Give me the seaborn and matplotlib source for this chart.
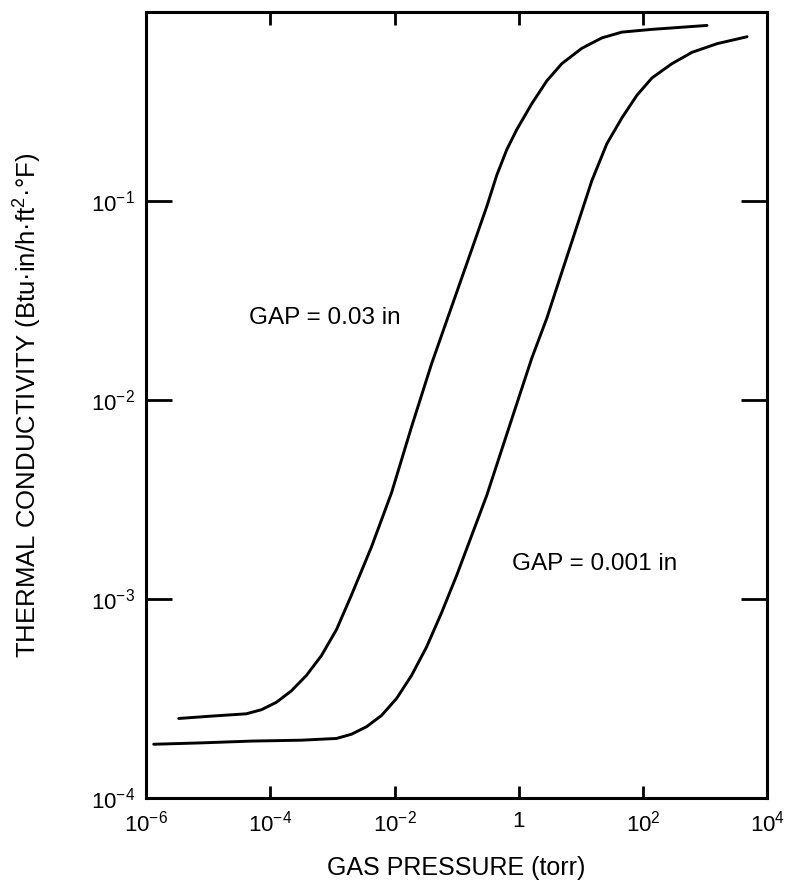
import numpy as np
import pandas as pd
import matplotlib
matplotlib.use("Agg")
import matplotlib.pyplot as plt
import seaborn as sns

# values (pressure in torr, conductivity in Btu·in/h·ft²·°F)
gap_003_pressure = [3.34e-6, 1.12e-5, 4.1e-5, 7.2e-5, 1.25e-4, 2.18e-4, 3.81e-4, 6.65e-4,
                    1.16e-3, 2.02e-3, 4.26e-3, 8.95e-3, 0.0188, 0.0395, 0.083, 0.175, 0.305,
                    0.442, 0.64, 0.93, 1.62, 2.83, 4.94, 10.4, 21.8, 45.8, 140, 1076]
gap_003_k = [2.52e-4, 2.59e-4, 2.66e-4, 2.79e-4, 3.04e-4, 3.47e-4, 4.15e-4, 5.22e-4,
             7.05e-4, 1.05e-3, 1.84e-3, 3.44e-3, 7.38e-3, 0.0153, 0.0296, 0.0574, 0.0942,
             0.1355, 0.182, 0.230, 0.310, 0.404, 0.493, 0.589, 0.664, 0.710, 0.733, 0.767]

gap_0001_pressure = [1.32e-6, 7.7e-6, 4.94e-5, 3.16e-4, 1.16e-3, 2.02e-3, 3.53e-3, 6.17e-3,
                     0.0108, 0.0188, 0.0328, 0.0573, 0.100, 0.175, 0.305, 0.532, 0.929, 1.62,
                     2.83, 4.94, 8.61, 15.0, 26.2, 45.8, 80.0, 140, 294, 617, 1563, 4753]
gap_0001_k = [1.87e-4, 1.90e-4, 1.94e-4, 1.96e-4, 2.0e-4, 2.10e-4, 2.29e-4, 2.61e-4,
              3.18e-4, 4.15e-4, 5.77e-4, 8.59e-4, 1.32e-3, 2.10e-3, 3.33e-3, 5.66e-3, 9.62e-3,
              0.0163, 0.0259, 0.0441, 0.0748, 0.127, 0.195, 0.263, 0.342, 0.418, 0.493,
              0.562, 0.621, 0.673]

x_ticks = [1e-6, 1e-4, 1e-2, 1, 1e2, 1e4]
x_labels = ["$10^{-6}$", "$10^{-4}$", "$10^{-2}$", "1", "$10^{2}$", "$10^{4}$"]
y_ticks = [1e-4, 1e-3, 1e-2, 1e-1]
y_labels = ["$10^{-4}$", "$10^{-3}$", "$10^{-2}$", "$10^{-1}$"]

df = pd.concat([
    pd.DataFrame({"pressure": gap_003_pressure, "k": gap_003_k, "gap": "GAP = 0.03 in"}),
    pd.DataFrame({"pressure": gap_0001_pressure, "k": gap_0001_k, "gap": "GAP = 0.001 in"}),
])

sns.set_style("ticks")
plt.rcParams["font.family"] = ["Liberation Sans", "DejaVu Sans"]
plt.rcParams["mathtext.default"] = "regular"
plt.rcParams["text.color"] = "black"
plt.rcParams["axes.labelcolor"] = "black"

fig, ax = plt.subplots(figsize=(7.86, 8.94), dpi=100)
fig.subplots_adjust(left=0.186, right=0.976, bottom=0.107, top=0.987)

sns.lineplot(data=df, x="pressure", y="k", hue="gap", units="gap", estimator=None,
             palette=["black", "black"], linewidth=2.1, sort=False, legend=False, ax=ax)

ax.set_xscale("log")
ax.set_yscale("log")
ax.set_xlim(1e-6, 1e4)
ax.set_ylim(1e-4, 0.9)

ax.set_xticks(x_ticks)
ax.set_xticklabels(x_labels)
ax.set_yticks(y_ticks)
ax.set_yticklabels(y_labels)
ax.minorticks_off()
ax.tick_params(which="major", direction="in", top=True, right=True, width=2,
               labelsize=16, colors="black")
ax.tick_params(axis="y", length=19, pad=8)
ax.tick_params(axis="x", length=9, pad=9)

for s in ax.spines.values():
    s.set_linewidth(2.2)
    s.set_color("black")

ax.text(10 ** -4.35, 10 ** -1.586, "GAP = 0.03 in", fontsize=17.5, va="center", ha="left",
        color="black")
ax.text(10 ** -0.11, 10 ** -2.822, "GAP = 0.001 in", fontsize=17.5, va="center", ha="left",
        color="black")

ax.set_xlabel("GAS PRESSURE (torr)", fontsize=18, labelpad=14, color="black")
ax.set_ylabel("THERMAL CONDUCTIVITY (Btu·in/h·ft$^{2}$·°F)", fontsize=18.5, color="black")
ax.yaxis.set_label_coords(-0.165, 0.5)

fig.savefig("out.png", dpi=100)
